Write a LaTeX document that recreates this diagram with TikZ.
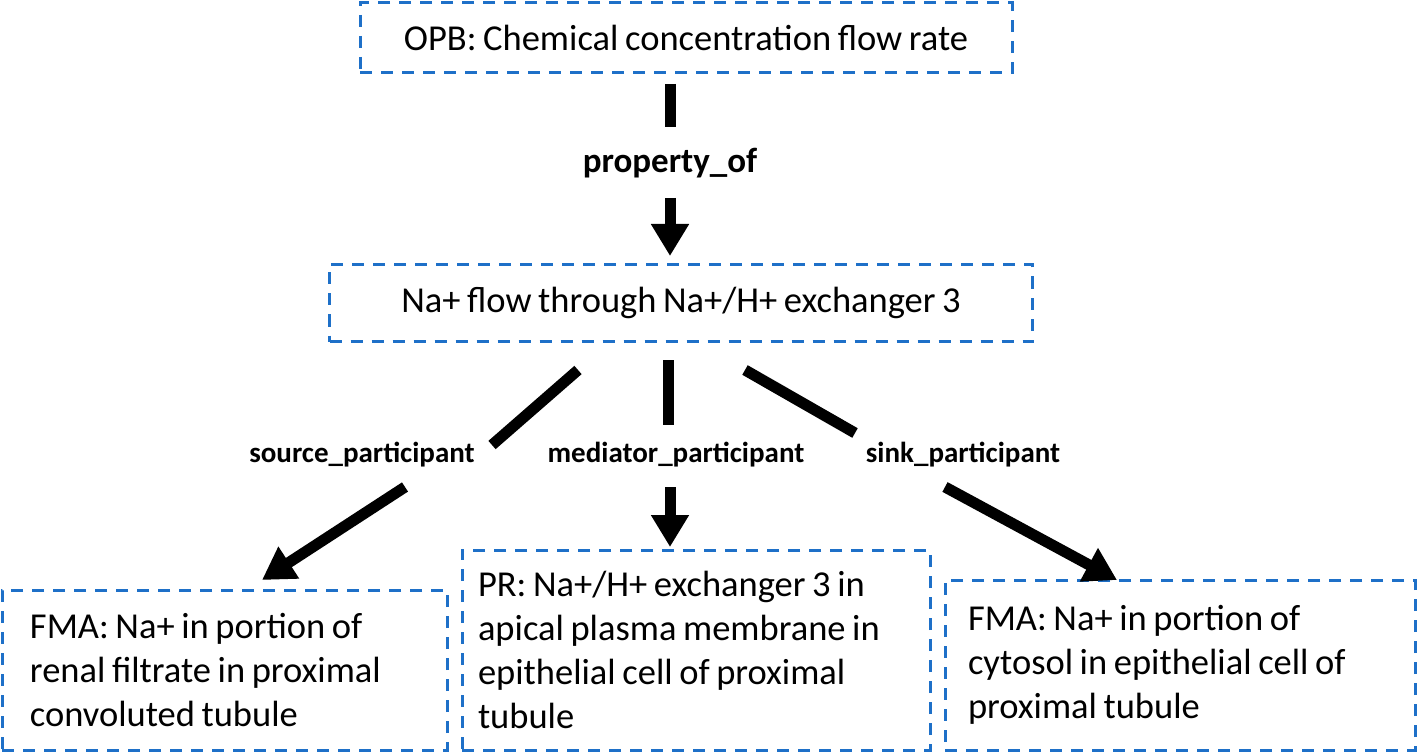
\documentclass[tikz,border=0pt]{standalone}
\usepackage{fontspec}
\setmainfont{Carlito}[WordSpace=0.8]
\usetikzlibrary{arrows.meta}
\definecolor{boxblue}{RGB}{30,112,200}
\frenchspacing
\begin{document}
\begin{tikzpicture}[x=1pt,y=-1pt,
  box/.style={draw=boxblue, line width=3pt, dash pattern=on 12pt off 9pt, inner sep=0pt,
    font=\fontsize{36.5}{44}\selectfont},
  lbl/.style={font=\bfseries\fontsize{29}{34}\selectfont, inner sep=0pt},
  conn/.style={line width=11pt, black},
  arr/.style={conn, -{Triangle[length=32pt,width=36pt]}}]
\useasboundingbox[fill=white] (0,0) rectangle (1417,754);
% boxes
\node[box, minimum width=652pt, minimum height=70pt] (opb) at (686,38) {OPB: Chemical concentration flow rate};
\node[box, minimum width=703pt, minimum height=77pt] (na) at (681,303) {Na+ flow through Na+/H+ exchanger 3};
\node[box, minimum width=445pt, minimum height=160pt, text width=389pt, inner xsep=28pt, align=flush left] (fmal) at (224.5,670)
  {FMA: Na+ in portion of\\renal filtrate in proximal\\convoluted tubule};
\node[box, minimum width=468pt, minimum height=200pt, text width=436pt, inner xsep=16pt, align=flush left] (pr) at (696,650)
  {PR: Na+/H+ exchanger 3 in\\apical plasma membrane in\\epithelial cell of proximal\\tubule};
\node[box, minimum width=470pt, minimum height=170pt, text width=424pt, inner xsep=23pt, align=flush left] (fmar) at (1180,665)
  {FMA: Na+ in portion of\\cytosol in epithelial cell of\\proximal tubule};
% labels
\node[lbl, font=\bfseries\fontsize{35}{40}\selectfont] (prop) at (670,163) {property\_of};
\node[lbl] (src) at (362,455) {source\_participant};
\node[lbl] (med) at (676,455) {mediator\_participant};
\node[lbl] (sink) at (963,455) {sink\_participant};
% connector end points
\coordinate (p1) at (670,84);
\coordinate (p2) at (670,127);
\coordinate (p3) at (670,198);
\coordinate (p4) at (670,256);
\coordinate (l1) at (578,370);
\coordinate (l2) at (492,445);
\coordinate (l3) at (405,487);
\coordinate (l4) at (262,580);
\coordinate (m1) at (668,360);
\coordinate (m2) at (668,425);
\coordinate (m3) at (670,487);
\coordinate (m4) at (670,547);
\coordinate (r1) at (745,370);
\coordinate (r2) at (855,433);
\coordinate (r3) at (945,487);
\coordinate (r4) at (1117,580);
% connectors
\draw[conn] (p1) -- (p2);
\draw[arr] (p3) -- (p4);
\draw[conn] (l1) -- (l2);
\draw[arr] (l3) -- (l4);
\draw[conn] (m1) -- (m2);
\draw[arr] (m3) -- (m4);
\draw[conn] (r1) -- (r2);
\draw[arr] (r3) -- (r4);
\end{tikzpicture}
\end{document}
